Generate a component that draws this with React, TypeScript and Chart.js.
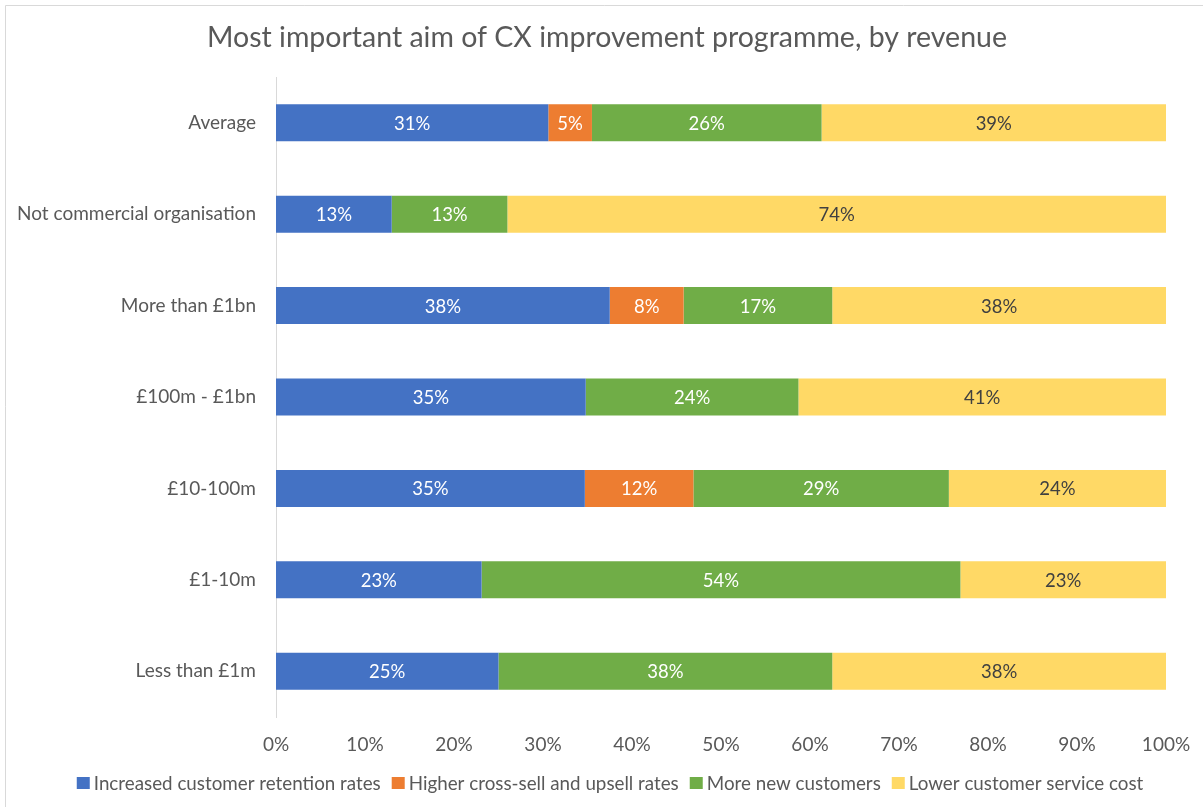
import React, { useEffect, useRef } from "react";
import { Chart, registerables } from "chart.js";

Chart.register(...registerables);

const TITLE = "Most important aim of CX improvement programme, by revenue";
const categories = [
  "Average",
  "Not commercial organisation",
  "More than £1bn",
  "£100m - £1bn",
  "£10-100m",
  "£1-10m",
  "Less than £1m",
];
const retention = [30.6, 13.0, 37.5, 34.8, 34.7, 23.1, 25.0];
const crossSell = [4.9, 0, 8.3, 0, 12.2, 0, 0];
const newCustomers = [25.8, 13.0, 16.7, 23.9, 28.7, 53.8, 37.5];
const serviceCost = [38.7, 74.0, 37.5, 41.3, 24.4, 23.1, 37.5];
const xTicks = [0, 10, 20, 30, 40, 50, 60, 70, 80, 90, 100];

const seriesNames = [
  "Increased customer retention rates",
  "Higher cross-sell and upsell rates",
  "More new customers",
  "Lower customer service cost",
];
const seriesColors = ["#4472C4", "#ED7D31", "#70AD47", "#FFD966"];
const labelColors = ["#FFFFFF", "#FFFFFF", "#FFFFFF", "#404040"];

const FONT = "Lato, 'Open Sans', sans-serif";
const TEXT = "#595959";

const bgPlugin = {
  id: "bg",
  beforeDraw(chart: any) {
    const { ctx, width, height } = chart;
    ctx.save();
    ctx.fillStyle = "#FFFFFF";
    ctx.fillRect(0, 0, width, height);
    ctx.strokeStyle = "#D9D9D9";
    ctx.lineWidth = 1;
    ctx.beginPath();
    ctx.moveTo(5.5, height);
    ctx.lineTo(5.5, 5.5);
    ctx.lineTo(width, 5.5);
    ctx.stroke();
    ctx.restore();
  },
};

// Title and legend drawn as canvas text, positioned like the original
const headerLegendPlugin = {
  id: "headerLegend",
  afterDraw(chart: any) {
    const { ctx } = chart;
    ctx.save();
    // title
    ctx.font = `28.5px ${FONT}`;
    ctx.fillStyle = TEXT;
    ctx.textAlign = "center";
    ctx.textBaseline = "alphabetic";
    ctx.fillText(TITLE, 607, 47);

    // legend
    ctx.font = `18.8px ${FONT}`;
    const box = 13;
    const gapText = 4;
    const gapItem = 11;
    const widths = seriesNames.map((n) => ctx.measureText(n).width);
    const total =
      widths.reduce((a, w) => a + box + gapText + w, 0) + gapItem * (seriesNames.length - 1);
    let x = 610 - total / 2;
    const cy = 783;
    ctx.textAlign = "left";
    ctx.textBaseline = "middle";
    seriesNames.forEach((n, i) => {
      ctx.fillStyle = seriesColors[i];
      ctx.fillRect(x, cy - 6, box, 12);
      x += box + gapText;
      ctx.fillStyle = TEXT;
      ctx.fillText(n, x, cy + 1);
      x += widths[i] + gapItem;
    });
    ctx.restore();
  },
};

const labelPlugin = {
  id: "barLabels",
  afterDatasetsDraw(chart: any) {
    const { ctx } = chart;
    ctx.save();
    ctx.font = `18.5px ${FONT}`;
    ctx.textAlign = "center";
    ctx.textBaseline = "middle";
    chart.data.datasets.forEach((ds: any, di: number) => {
      const meta = chart.getDatasetMeta(di);
      meta.data.forEach((bar: any, i: number) => {
        const v = ds.data[i];
        if (!v) return;
        const cx = (bar.x + bar.base) / 2;
        ctx.fillStyle = labelColors[di];
        ctx.fillText(Math.round(v) + "%", cx, bar.y + 1);
      });
    });
    ctx.restore();
  },
};

export default function App() {
  const ref = useRef<HTMLCanvasElement>(null);
  useEffect(() => {
    if (!ref.current) return;
    const values = [retention, crossSell, newCustomers, serviceCost];
    const chart = new Chart(ref.current, {
      type: "bar",
      data: {
        labels: categories,
        datasets: values.map((d, i) => ({
          label: seriesNames[i],
          data: d,
          backgroundColor: seriesColors[i],
          borderWidth: 0,
          barPercentage: 0.405,
          categoryPercentage: 1,
        })),
      },
      options: {
        indexAxis: "y",
        responsive: false,
        animation: false,
        layout: { padding: { top: 77, right: 37, bottom: 46, left: 0 } },
        scales: {
          x: {
            stacked: true,
            min: 0,
            max: 100,
            afterBuildTicks: (s: any) => {
              s.ticks = xTicks.map((v) => ({ value: v }));
            },
            afterFit: (s: any) => {
              s.height = 44;
              s.paddingLeft = 0;
              s.paddingRight = 0;
            },
            grid: { display: false, drawTicks: false },
            border: { display: false },
            ticks: {
              color: TEXT,
              font: { family: FONT, size: 19 },
              padding: 16.5,
              callback: (v: any) => v + "%",
              maxRotation: 0,
            },
          },
          y: {
            stacked: true,
            afterFit: (s: any) => {
              s.width = 276;
            },
            grid: { display: false, drawTicks: false },
            border: { display: true, color: "#D9D9D9", width: 1 },
            ticks: {
              color: TEXT,
              font: { family: FONT, size: 19 },
              padding: 20,
            },
          },
        },
        plugins: {
          title: { display: false },
          legend: { display: false },
          tooltip: { enabled: false },
        },
      },
      plugins: [bgPlugin, labelPlugin, headerLegendPlugin],
    } as any);
    return () => chart.destroy();
  }, []);
  return (
    <div style={{ position: "fixed", left: 0, top: 0, width: 1203, height: 807 }}>
      <canvas ref={ref} width={1203} height={807} />
    </div>
  );
}
